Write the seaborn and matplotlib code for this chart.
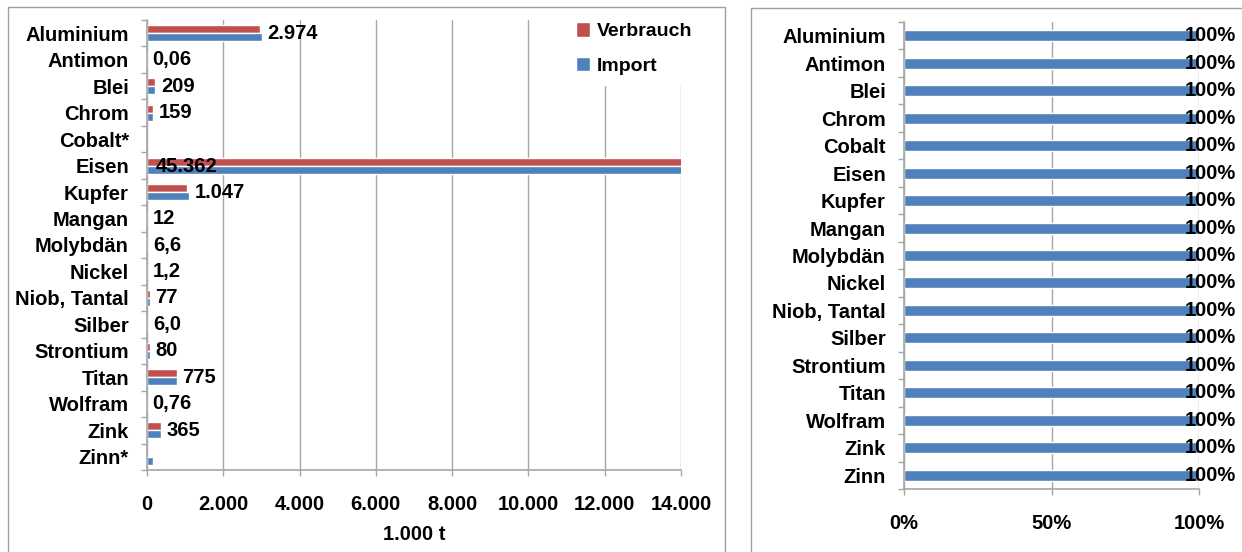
import numpy as np
import pandas as pd
import matplotlib
matplotlib.use("Agg")
import matplotlib.pyplot as plt
from matplotlib.patches import Rectangle, Patch
from matplotlib.ticker import FuncFormatter, FixedLocator
import seaborn as sns

# ---------------------------
# Daten
# ---------------------------
materialien = ["Aluminium", "Antimon", "Blei", "Chrom", "Cobalt*", "Eisen", "Kupfer",
               "Mangan", "Molybdän", "Nickel", "Niob, Tantal", "Silber", "Strontium",
               "Titan", "Wolfram", "Zink", "Zinn*"]
verbrauch = [2974, 0.06, 209, 159, np.nan, 45362, 1047, 12, 6.6, 1.2, 77, 6.0, 80,
             775, 0.76, 365, np.nan]
importe = [3020, 0.06, 220, 165, np.nan, 45362, 1100, 12, 6.6, 1.2, 77, 6.0, 80,
           775, 0.76, 370, 150]
wert_labels = ["2.974", "0,06", "209", "159", "", "45.362", "1.047", "12", "6,6", "1,2",
               "77", "6,0", "80", "775", "0,76", "365", ""]

materialien_rechts = ["Aluminium", "Antimon", "Blei", "Chrom", "Cobalt", "Eisen", "Kupfer",
                      "Mangan", "Molybdän", "Nickel", "Niob, Tantal", "Silber", "Strontium",
                      "Titan", "Wolfram", "Zink", "Zinn"]
anteil = [1.0] * 17

ROT = "#C0504D"
BLAU = "#4F81BD"
GRAU = "#A6A6A6"
FS = 14.5

sns.set_theme(style="white")
plt.rcParams["font.family"] = ["Liberation Sans", "DejaVu Sans"]
plt.rcParams["font.weight"] = "bold"
plt.rcParams["text.color"] = "black"
plt.rcParams["axes.labelcolor"] = "black"
plt.rcParams["xtick.labelcolor"] = "black"
plt.rcParams["ytick.labelcolor"] = "black"

W, H = 1242, 552
fig = plt.figure(figsize=(W / 100, H / 100), dpi=100)

# Rahmen der beiden Diagramme
fig.patches.append(Rectangle((8 / W, -0.05), (725 - 8) / W, 1 - 7 / H + 0.05,
                             transform=fig.transFigure, fill=False, edgecolor="#A0A0A0", lw=1))
fig.patches.append(Rectangle((751 / W, -0.05), 0.6, 1 - 8 / H + 0.05,
                             transform=fig.transFigure, fill=False, edgecolor="#A0A0A0", lw=1))

# ---------------------------
# Linkes Diagramm
# ---------------------------
ax1 = fig.add_axes([147 / W, 1 - 470 / H, (681 - 147) / W, (470 - 20) / H])

df = pd.DataFrame({
    "Material": materialien * 2,
    "Serie": ["Verbrauch"] * len(materialien) + ["Import"] * len(materialien),
    "Wert": verbrauch + importe,
}).dropna()

sns.barplot(data=df, y="Material", x="Wert", hue="Serie", order=materialien,
            hue_order=["Verbrauch", "Import"], palette=[ROT, BLAU], orient="h",
            width=0.6, errorbar=None, saturation=1, legend=False, ax=ax1)

XMAX = 14000
ax1.set_xlim(0, XMAX)
ax1.set_xticks(np.arange(0, XMAX + 1, 2000))
ax1.xaxis.set_major_formatter(FuncFormatter(lambda v, p: f"{v:,.0f}".replace(",", ".")))
ax1.grid(axis="x", color=GRAU, lw=1)
ax1.set_axisbelow(True)
ax1.set_ylabel("")
ax1.set_xlabel("1.000 t", fontsize=FS, fontweight="bold", labelpad=8)

for i, lab in enumerate(wert_labels):
    if not lab:
        continue
    vmax = np.nanmax([verbrauch[i], importe[i]])
    if vmax > XMAX:
        ax1.annotate(lab, (0, i), xytext=(6, -1), textcoords="offset points",
                     ha="left", va="center", fontsize=FS, fontweight="bold")
    else:
        ax1.annotate(lab, (vmax, i), xytext=(4, 0), textcoords="offset points",
                     ha="left", va="center", fontsize=FS, fontweight="bold")

handles = [Patch(facecolor=ROT, label="Verbrauch"), Patch(facecolor=BLAU, label="Import")]
ax1.legend(handles=handles, loc="upper right", bbox_to_anchor=(714 / W, 1 - 1 / H),
           bbox_transform=fig.transFigure,
           frameon=True, facecolor="white", edgecolor="none", framealpha=1,
           handlelength=0.75, handleheight=0.75, handletextpad=0.35, labelspacing=0.85,
           borderpad=0.6, prop={"weight": "bold", "size": FS - 0.5})


def style_axes(ax, n):
    for s in ["top", "right"]:
        ax.spines[s].set_visible(False)
    for s in ["left", "bottom"]:
        ax.spines[s].set_color(GRAU)
        ax.spines[s].set_linewidth(1.2)
    ax.yaxis.set_minor_locator(FixedLocator(np.arange(-0.5, n, 1.0)))
    ax.tick_params(axis="y", which="major", length=0, pad=13, labelsize=FS)
    ax.tick_params(axis="y", which="minor", left=True, length=4, color=GRAU, width=1)
    ax.tick_params(axis="x", which="major", bottom=True, length=4, color=GRAU, width=1,
                   pad=14, labelsize=FS)
    for t in ax.get_xticklabels() + ax.get_yticklabels():
        t.set_fontweight("bold")
    ax.set_ylim(n - 0.5, -0.5)


style_axes(ax1, len(materialien))

# ---------------------------
# Rechtes Diagramm
# ---------------------------
ax2 = fig.add_axes([904 / W, 1 - 489 / H, (1199 - 904) / W, (489 - 22) / H])
df2 = pd.DataFrame({"Material": materialien_rechts, "Anteil": anteil})
sns.barplot(data=df2, y="Material", x="Anteil", color=BLAU, orient="h", width=0.4,
            errorbar=None, saturation=1, ax=ax2)
ax2.set_xlim(0, 1)
ax2.set_xticks([0, 0.5, 1.0])
ax2.set_xticklabels(["0%", "50%", "100%"])
ax2.grid(axis="x", color=GRAU, lw=1)
ax2.set_axisbelow(True)
ax2.set_xlabel("")
ax2.set_ylabel("")
for i, a in enumerate(anteil):
    ax2.annotate(f"{a:.0%}", (a, i), xytext=(-10, 0), textcoords="offset points",
                 ha="left", va="center", fontsize=FS, fontweight="bold", annotation_clip=False)
style_axes(ax2, len(materialien_rechts))

fig.savefig("out.png", dpi=100)
